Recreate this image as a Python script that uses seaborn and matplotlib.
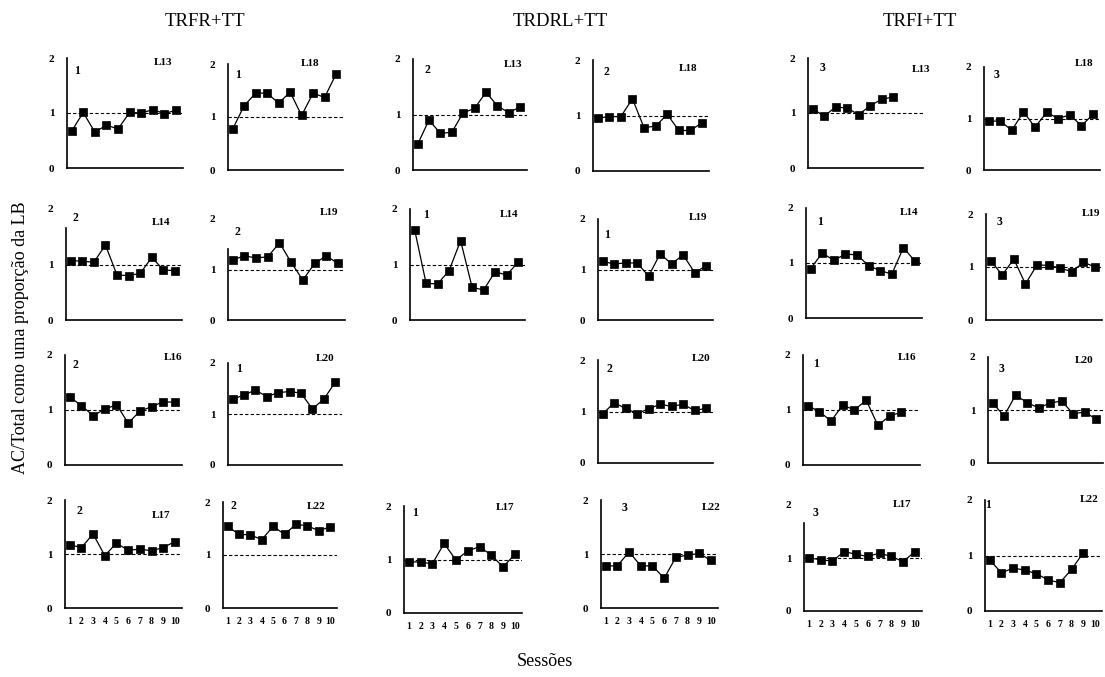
import matplotlib
matplotlib.use("Agg")
import matplotlib.pyplot as plt
import seaborn as sns

sns.set_theme(style="white")
plt.rcParams['font.family'] = ['Liberation Serif', 'DejaVu Serif']
plt.rcParams['text.color'] = 'black'
plt.rcParams['axes.labelcolor'] = 'black'
plt.rcParams['xtick.color'] = 'black'
plt.rcParams['ytick.color'] = 'black'

# ---------------- data ----------------
groups = ["TRFR+TT", "TRDRL+TT", "TRFI+TT"]
sessions = [1, 2, 3, 4, 5, 6, 7, 8, 9, 10]
session_labels = ["1", "2", "3", "4", "5", "6", "7", "8", "9", "10"]
y_ticks = [0, 1, 2]
y_label = "AC/Total como uma proporção da LB"
x_label = "Sessões"

# TRFR+TT
trfr_l13 = [0.67, 1.01, 0.65, 0.78, 0.71, 1.01, 1.00, 1.06, 0.99, 1.05]
trfr_l18 = [0.77, 1.21, 1.45, 1.45, 1.26, 1.47, 1.03, 1.45, 1.37, 1.81]
trfr_l14 = [1.07, 1.06, 1.04, 1.35, 0.81, 0.80, 0.84, 1.13, 0.90, 0.89]
trfr_l19 = [1.19, 1.27, 1.23, 1.25, 1.53, 1.14, 0.79, 1.12, 1.27, 1.12]
trfr_l16 = [1.24, 1.08, 0.90, 1.01, 1.10, 0.76, 0.98, 1.06, 1.15, 1.14]
trfr_l20 = [1.29, 1.37, 1.47, 1.34, 1.42, 1.44, 1.41, 1.10, 1.29, 1.62]
trfr_l17 = [1.17, 1.12, 1.37, 0.97, 1.20, 1.07, 1.09, 1.06, 1.12, 1.23]
trfr_l22 = [1.54, 1.39, 1.38, 1.29, 1.54, 1.39, 1.58, 1.55, 1.46, 1.53]

# TRDRL+TT
trdrl_l13 = [0.46, 0.90, 0.66, 0.68, 1.03, 1.11, 1.40, 1.16, 1.03, 1.14]
trdrl_l18 = [0.95, 0.98, 0.98, 1.30, 0.78, 0.81, 1.02, 0.73, 0.73, 0.87]
trdrl_l14 = [1.63, 0.66, 0.65, 0.89, 1.43, 0.59, 0.54, 0.87, 0.81, 1.04]
trdrl_l19 = [1.16, 1.11, 1.13, 1.13, 0.87, 1.31, 1.11, 1.29, 0.94, 1.07]
trdrl_l20 = [0.95, 1.17, 1.06, 0.96, 1.05, 1.14, 1.10, 1.14, 1.02, 1.06]
trdrl_l17 = [0.96, 0.95, 0.92, 1.30, 0.99, 1.16, 1.24, 1.08, 0.86, 1.10]
trdrl_l22 = [0.78, 0.78, 1.04, 0.78, 0.78, 0.55, 0.94, 0.98, 1.01, 0.88]

# TRFI+TT
trfi_l13 = [1.08, 0.94, 1.11, 1.09, 0.97, 1.13, 1.25, 1.29]
trfi_l18 = [0.95, 0.95, 0.77, 1.13, 0.83, 1.12, 1.00, 1.07, 0.86, 1.08]
trfi_l14 = [0.90, 1.18, 1.05, 1.16, 1.15, 0.95, 0.86, 0.80, 1.28, 1.03]
trfi_l19 = [1.12, 0.85, 1.15, 0.68, 1.04, 1.03, 0.98, 0.91, 1.09, 1.00]
trfi_l16 = [1.08, 0.97, 0.80, 1.09, 1.00, 1.18, 0.72, 0.89, 0.96]
trfi_l20 = [1.13, 0.89, 1.28, 1.14, 1.04, 1.13, 1.17, 0.93, 0.96, 0.83]
trfi_l17 = [1.00, 0.97, 0.94, 1.12, 1.07, 1.03, 1.09, 1.03, 0.93, 1.12]
trfi_l22 = [0.92, 0.69, 0.77, 0.74, 0.67, 0.56, 0.51, 0.75, 1.05]

# ---------------- layout ----------------
W, H = 1105, 677
fig = plt.figure(figsize=(W / 100, H / 100), dpi=100)

# (values, phase, subject, box px (left, top, right, bottom), phase pos, subject pos, bottom row, spine top)
panels = [
    (trfr_l13, "1", "L13", (67, 58, 183, 168), (0.09, 1.76), (0.83, 1.92), False, 2),
    (trfr_l18, "1", "L18", (228, 64, 343, 170), (0.09, 1.79), (0.71, 2.00), False, 2),
    (trdrl_l13, "2", "L13", (413, 59, 527, 170), (0.13, 1.81), (0.88, 1.90), False, 2),
    (trdrl_l18, "2", "L18", (593, 60, 709, 171), (0.12, 1.79), (0.82, 1.85), False, 2),
    (trfi_l13, "3", "L13", (808, 58, 923, 168), (0.13, 1.82), (0.98, 1.79), False, 2),
    (trfi_l18, "3", "L18", (984, 67, 1100, 170), (0.11, 1.84), (0.86, 2.06), False, 2),

    (trfr_l14, "2", "L14", (66, 209, 182, 320), (0.08, 1.84), (0.82, 1.76), False, 1.66),
    (trfr_l19, "2", "L19", (228, 219, 345, 320), (0.08, 1.75), (0.86, 2.12), False, 1.40),
    (trdrl_l14, "1", "L14", (410, 209, 525, 320), (0.14, 1.90), (0.86, 1.90), False, 2),
    (trdrl_l19, "1", "L19", (598, 219, 713, 320), (0.08, 1.68), (0.87, 2.02), False, 2),
    (trfi_l14, "1", "L14", (806, 208, 922, 318), (0.12, 1.74), (0.89, 1.92), False, 2),
    (trfi_l19, "3", "L19", (986, 214, 1102, 320), (0.12, 1.84), (0.91, 2.01), False, 2),

    (trfr_l16, "2", "L16", (65, 355, 182, 465), (0.09, 1.82), (0.92, 1.96), False, 2),
    (trfr_l20, "1", "L20", (228, 363, 342, 465), (0.10, 1.89), (0.85, 2.09), False, 2),
    (trdrl_l20, "2", "L20", (598, 360, 713, 463), (0.10, 1.83), (0.90, 2.02), False, 2),
    (trfi_l16, "1", "L16", (803, 355, 920, 465), (0.11, 1.84), (0.89, 1.96), False, 2),
    (trfi_l20, "3", "L20", (988, 357, 1103, 463), (0.12, 1.78), (0.84, 1.94), False, 2),

    (trfr_l17, "2", "L17", (65, 500, 182, 608), (0.12, 1.80), (0.82, 1.72), True, 2),
    (trfr_l22, "2", "L22", (223, 502, 337, 608), (0.09, 1.92), (0.82, 1.92), True, 2),
    (trdrl_l17, "1", "L17", (404, 506, 522, 613), (0.09, 1.86), (0.86, 1.98), True, 2),
    (trdrl_l22, "3", "L22", (601, 500, 718, 608), (0.20, 1.86), (0.94, 1.86), True, 2),
    (trfi_l17, "3", "L17", (804, 505, 922, 611), (0.10, 1.84), (0.83, 2.01), True, 1.66),
    (trfi_l22, "1", "L22", (985, 500, 1102, 611), (0.03, 1.91), (0.89, 2.00), True, 2),
]

for vals, phase, subj, (l, t, r, b), ppos, spos, bottom_row, stop in panels:
    ax = fig.add_axes([l / W, 1 - b / H, (r - l) / W, (b - t) / H])
    ax.axhline(1, color="black", linestyle=(0, (3, 2)), linewidth=0.8, zorder=1)
    sns.lineplot(x=sessions[:len(vals)], y=vals, ax=ax, color="black",
                 marker="s", markersize=6, markeredgecolor="black",
                 markeredgewidth=0.5, linewidth=0.9, zorder=3)
    ax.set_xlim(0.6, 10.6)
    ax.set_ylim(0, 2)
    ax.set_xticks(sessions)
    if bottom_row:
        ax.set_xticklabels(session_labels, fontsize=7, fontweight="bold", color="black")
    else:
        ax.set_xticklabels([])
    ax.set_yticks(y_ticks)
    ax.set_yticklabels([str(v) for v in y_ticks], fontsize=8, fontweight="bold", color="black")
    ax.tick_params(axis="x", direction="out", length=2.5, width=1, pad=4, colors="black")
    ax.tick_params(axis="y", direction="in", length=0, pad=9, colors="black")
    for s in ["top", "right"]:
        ax.spines[s].set_visible(False)
    for s in ["left", "bottom"]:
        ax.spines[s].set_color("black")
        ax.spines[s].set_linewidth(1.2)
    ax.spines["left"].set_bounds(0, stop)
    ax.set_xlabel("")
    ax.set_ylabel("")
    ax.patch.set_alpha(0)
    ax.text(0.6 + ppos[0] * 10, ppos[1], phase, fontsize=8.5, fontweight="bold",
            ha="center", va="center", color="black")
    ax.text(0.6 + spos[0] * 10, spos[1], subj, fontsize=8, fontweight="bold",
            ha="center", va="center", color="black")

# group titles
for name, cx in zip(groups, [205, 560, 920]):
    fig.text(cx / W, 1 - 21 / H, name, ha="center", va="center", fontsize=13.5, color="black")

fig.text(21 / W, 1 - 338 / H, y_label, rotation=90, ha="center", va="center",
         fontsize=13, color="black")
fig.text(545 / W, 1 - 661 / H, x_label, ha="center", va="center", fontsize=13, color="black")

fig.savefig("out.png", dpi=100, facecolor="white")
